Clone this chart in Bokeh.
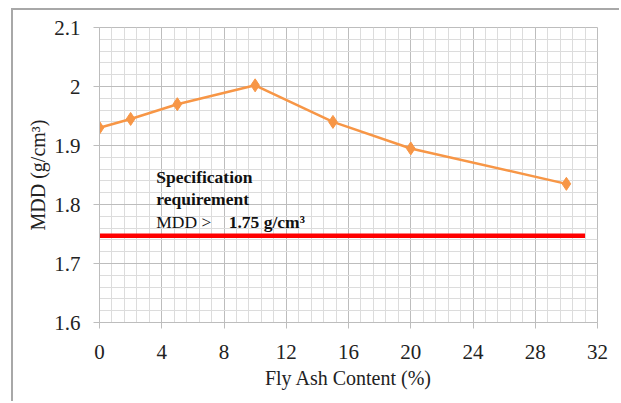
from bokeh.plotting import figure
from bokeh.models import FixedTicker, Label, Range1d
from bokeh.embed import file_html
from bokeh.resources import INLINE

# data
fly_ash = [0, 2, 5, 10, 15, 20, 30]
mdd = [1.93, 1.945, 1.97, 2.002, 1.94, 1.895, 1.835]
spec_limit = 1.747
spec_x = [-0.2, 31.2]
x_ticks = [0, 4, 8, 12, 16, 20, 24, 28, 32]
y_ticks = [1.6, 1.7, 1.8, 1.9, 2.0, 2.1]
y_tick_labels = ["1.6", "1.7", "1.8", "1.9", "2", "2.1"]

FONT = "Liberation Serif"
GRID_MAJ = "#bdbdbd"
GRID_MIN = "#dcdcdc"

p = figure(width=608, height=393, output_backend="svg", toolbar_location=None,
           x_range=Range1d(0, 32), y_range=Range1d(1.6, 2.1),
           min_border_left=86, min_border_right=24, min_border_top=17, min_border_bottom=81)
p.styles = {"margin-top": "8px", "margin-left": "11px",
            "border-left": "2px solid #a8a8a8", "border-top": "2px solid #a8a8a8"}

xminor = [round(i * 0.8, 2) for i in range(41)]
yminor = [round(1.6 + i * 0.02, 3) for i in range(26)]
p.xaxis.ticker = FixedTicker(ticks=x_ticks, minor_ticks=xminor)
p.yaxis.ticker = FixedTicker(ticks=y_ticks, minor_ticks=yminor)
p.yaxis.major_label_overrides = {t: l for t, l in zip(y_ticks, y_tick_labels)}

for g in (p.xgrid, p.ygrid):
    g.grid_line_color = GRID_MAJ
    g.grid_line_width = 1
    g.minor_grid_line_color = GRID_MIN
    g.minor_grid_line_width = 1

for ax in (p.xaxis, p.yaxis):
    ax.axis_line_color = GRID_MAJ
    ax.major_tick_line_color = GRID_MAJ
    ax.major_tick_out = 6
    ax.major_tick_in = 0
    ax.minor_tick_out = 0
    ax.minor_tick_in = 0
    ax.major_label_text_font = FONT
    ax.major_label_text_font_size = "21px"
    ax.major_label_text_color = "#222222"
    ax.axis_label_text_font = FONT
    ax.axis_label_text_font_size = "20px"
    ax.axis_label_text_font_style = "normal"
    ax.axis_label_text_color = "#222222"

p.xaxis.axis_label = "Fly Ash Content (%)"
p.yaxis.axis_label = "MDD (g/cm³)"
p.xaxis.major_label_standoff = 16
p.yaxis.major_label_standoff = 13
p.xaxis.axis_label_standoff = 5
p.yaxis.axis_label_standoff = 2
p.outline_line_color = GRID_MAJ
p.background_fill_color = "white"
p.border_fill_color = "white"

p.line(spec_x, [spec_limit, spec_limit], line_color="#ff0000", line_width=4.5)
p.line(fly_ash, mdd, line_color="#f79646", line_width=2.5)
p.scatter(fly_ash, mdd, marker="diamond", size=13, fill_color="#f79646", line_color="#f79646")

def lab(x, y, t, style):
    p.add_layout(Label(x=x, y=y, text=t, text_font=FONT, text_font_size="17.5px",
                       text_font_style=style, text_color="#111111", text_baseline="alphabetic"))

lab(3.65, 1.846, "Specification", "bold")
lab(3.65, 1.810, "requirement", "bold")
lab(3.65, 1.771, "MDD >", "normal")
lab(8.3, 1.771, "1.75 g/cm³", "bold")

open("out.html", "w").write(file_html(p, INLINE))
